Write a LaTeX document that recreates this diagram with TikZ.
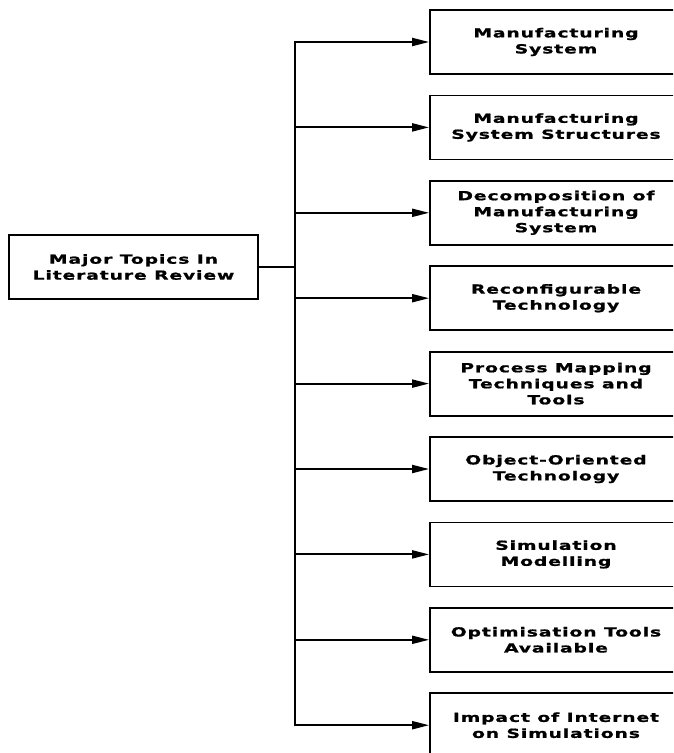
\documentclass[tikz,border=0pt]{standalone}
\usepackage{fontspec}
\usetikzlibrary{arrows.meta}
\newfontfamily\topicfont[FakeStretch=1.5,LetterSpace=7,FakeBold=1.2]{DejaVu Sans}
\begin{document}
\begin{tikzpicture}[x=1pt,y=-1pt,
  box/.style={draw,line width=1.8pt,minimum width=#1,minimum height=64pt,
    inner sep=0pt,align=center,
    font=\topicfont\bfseries\fontsize{12.5}{16}\selectfont},
  box/.default=252pt,
  link/.style={line width=2pt},
  feed/.style={link,-{Triangle[length=17pt,width=8pt]}}]
\clip (0,0) rectangle (673,753);
% root topic
\node[box=249pt] (root) at (133.5,267) {Major Topics In\\Literature Review};
% subtopics
\foreach \i/\txt in {0/{Manufacturing\\System},
                     1/{Manufacturing\\System Structures},
                     2/{Decomposition of\\Manufacturing\\System},
                     3/{Reconfigurable\\Technology},
                     4/{Process Mapping\\Techniques and\\Tools},
                     5/{Object-Oriented\\Technology},
                     6/{Simulation\\Modelling},
                     7/{Optimisation Tools\\Available},
                     8/{Impact of Internet\\on Simulations}}
  \node[box] (t\i) at (556,{42+85.4*\i}) {\txt};
% distribution trunk
\coordinate (top) at (295,0 |- t0.west);
\coordinate (bot) at (295,0 |- t8.west);
\coordinate (split) at (295,0 |- root.east);
\draw[link] (root.east) -- (split);
\draw[link,line cap=rect] (top) -- (bot);
\foreach \i in {0,...,8}
  \draw[feed] (295,0 |- t\i.west) -- (t\i.west);
\end{tikzpicture}
\end{document}
